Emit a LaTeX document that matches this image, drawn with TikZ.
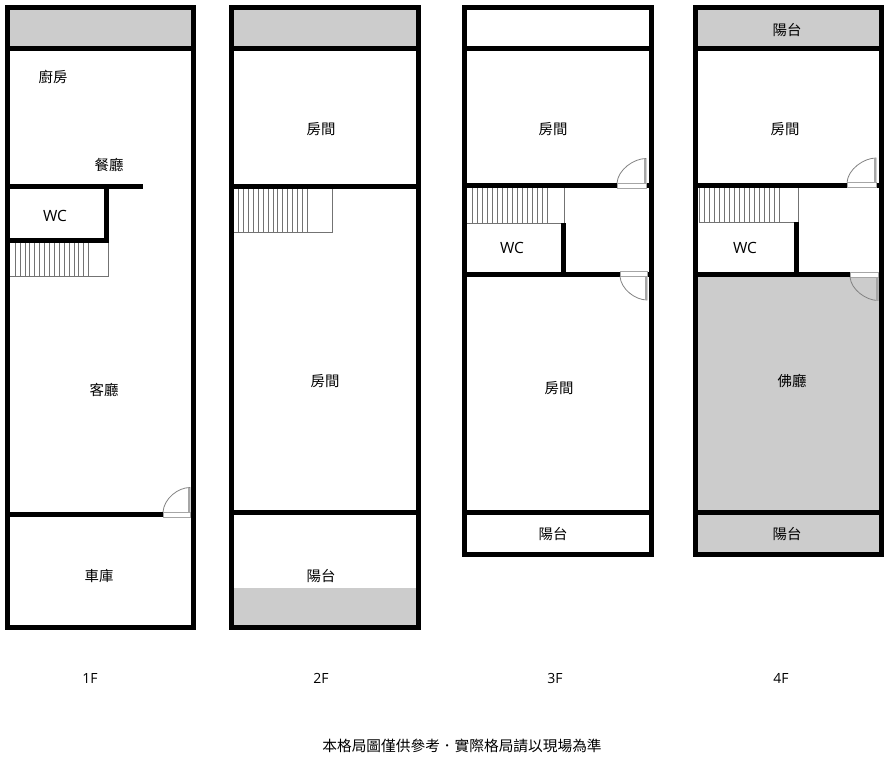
\documentclass[tikz,border=0pt]{standalone}
\usepackage{fontspec}
\setmainfont{Open Sans}
\newfontfamily\cjk{Noto Sans CJK TC}
\usepackage{xcolor}
\usepackage{tikz}
\usetikzlibrary{positioning}
\definecolor{roomgray}{RGB}{204,204,204}
\definecolor{doorgray}{RGB}{130,130,130}
\tikzset{
  wall/.style={line width=5pt, black},
  room/.style={font=\cjk\fontsize{14.4}{16}\selectfont, text=black, inner sep=0pt},
  notetext/.style={font=\cjk\fontsize{14.7}{16}\selectfont, text=black, inner sep=0pt},
  tag/.style={font=\fontsize{15.5}{18}\selectfont, text=black, inner sep=0pt},
  floortag/.style={font=\fontsize{14}{16}\selectfont, text=black, inner sep=0pt},
  tread/.style={line width=0.6pt, black!55},
  door/.style={line width=0.8pt, doorgray},
  sill/.style={line width=0.8pt, black!35, fill=white}
}
\newcommand{\doorup}[3]{% hinge x, hinge y, width
  \fill[white] (#1-#3,#2-2.5) rectangle (#1,#2+2.5);
  \draw[sill] (#1-#3,#2-2.5) rectangle (#1,#2+2.5);
  \draw[door] (#1-#3,#2-2.5) .. controls (#1-#3+1,#2-16) and (#1-12,#2-27) .. (#1,#2-27) -- (#1,#2-2.5);
  \draw[door, line width=1.6pt, black!35] (#1-1,#2-27) -- (#1-1,#2-2.5);
}
\newcommand{\doordown}[3]{% hinge x, hinge y, width
  \fill[white] (#1-#3,#2-2.5) rectangle (#1,#2+2.5);
  \draw[sill] (#1-#3,#2-2.5) rectangle (#1,#2+2.5);
  \draw[door] (#1-#3,#2+2.5) .. controls (#1-#3+1,#2+15) and (#1-12,#2+26) .. (#1,#2+26) -- (#1,#2+2.5);
  \draw[door, line width=1.6pt, black!35] (#1-1,#2+26) -- (#1-1,#2+2.5);
}
\begin{document}
\begin{tikzpicture}[x=1pt,y=-1pt]
\useasboundingbox (0,0) rectangle (889,760);
\fill[white] (0,0) rectangle (889,760);

% Gray areas
\fill[roomgray] (8,8) rectangle (193,48);
\fill[roomgray] (232,8) rectangle (418,48);
\fill[roomgray] (232,588) rectangle (418,627);
\fill[roomgray] (695,8) rectangle (881,48);
\fill[roomgray] (695,277) rectangle (881,512);
\fill[roomgray] (695,512) rectangle (881,554);

% Stairs
\foreach \x in {15,19.9,...,89} \draw[tread] (\x,243) -- (\x,276);
\draw[tread] (10,276) -- (108,276) -- (108,243);
\foreach \x in {238.5,243.4,...,309} \draw[tread] (\x,188) -- (\x,232);
\draw[tread] (234,232) -- (332,232) -- (332,188);
\foreach \x in {472,477,...,547.5} \draw[tread] (\x,188) -- (\x,223);
\draw[tread] (467,223) -- (564,223) -- (564,188);
\foreach \x in {704,709,...,780.5} \draw[tread] (\x,188) -- (\x,222);
\draw[tread] (699,222) -- (798,222) -- (798,188);
\draw[tread] (699,188) -- (699,222);

% 1F walls
\draw[wall] (7.5,7.5) rectangle (193.5,627.5);
\draw[wall] (10,48.5) -- (191,48.5);
\draw[wall] (10,186) -- (143,186);
\draw[wall] (106,186) -- (106,242.5);
\draw[wall] (10,240) -- (108.5,240);
\draw[wall] (10,514.5) -- (191,514.5);
\doorup{190}{514.5}{27}

% 2F walls
\draw[wall] (231.5,7.5) rectangle (418,627.5);
\draw[wall] (234,48.5) -- (416,48.5);
\draw[wall] (234,186) -- (416,186);
\draw[wall] (234,512) -- (416,512);

% 3F walls
\draw[wall] (464.5,7.5) rectangle (651,554);
\draw[wall] (467,48.5) -- (649,48.5);
\draw[wall] (467,185.5) -- (649,185.5);
\draw[wall] (563,223) -- (563,274);
\draw[wall] (467,274) -- (649,274);
\draw[wall] (467,512) -- (649,512);
\doorup{646}{185.5}{29}
\doordown{647}{274}{27}

% 4F walls
\draw[wall] (695,7.5) rectangle (881,554);
\draw[wall] (697,48.5) -- (879,48.5);
\draw[wall] (697,185) -- (879,185);
\draw[wall] (796,222) -- (796,274);
\draw[wall] (697,274.5) -- (879,274.5);
\draw[wall] (697,512) -- (879,512);
\doorup{876}{185}{29}
\doordown{878}{274.5}{28}

% Room names
\node[room] (kitchen) at (53,76.5) {廚房};
\node[room] (dining) at (109,164.5) {餐廳};
\node[tag] (wcA) at (55,216) {WC};
\node[room] (living) at (104,390) {客廳};
\node[room] (garage) at (99,576.5) {車庫};
\node[room] (roomA) at (321,129.5) {房間};
\node[room] (roomB) at (325,381.5) {房間};
\node[room] (balconyA) at (321,576.5) {陽台};
\node[room] (roomC) at (553,129.5) {房間};
\node[tag] (wcB) at (512,248) {WC};
\node[room] (roomD) at (559,388) {房間};
\node[room] (balconyB) at (553,534.5) {陽台};
\node[room] (balconyC) at (787,30) {陽台};
\node[room] (roomE) at (785,129.5) {房間};
\node[tag] (wcC) at (745,248) {WC};
\node[room] (shrine) at (792,381) {佛廳};
\node[room] (balconyD) at (787,534.5) {陽台};

% Floor names
\node[floortag] (floorA) at (90,678) {1F};
\node[floortag] (floorB) at (321,678) {2F};
\node[floortag] (floorC) at (555,678) {3F};
\node[floortag] (floorD) at (781,678) {4F};

\node[notetext] (note) at (462,745.5) {本格局圖僅供參考．實際格局請以現場為準};
\end{tikzpicture}
\end{document}
